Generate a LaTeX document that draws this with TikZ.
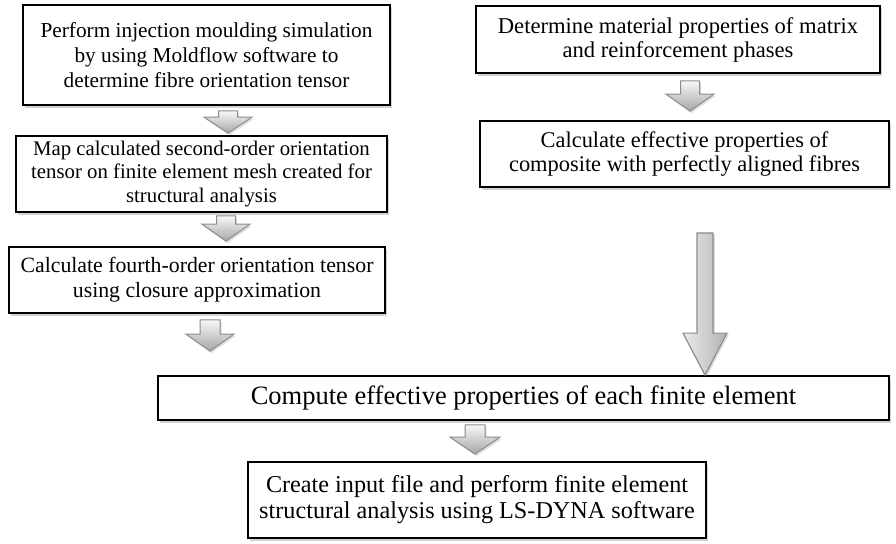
\documentclass[tikz,border=0pt]{standalone}
\usepackage{fontspec}
\setmainfont{Liberation Serif}
\usetikzlibrary{shadows,calc}
\tikzset{
  stepbox/.style={draw=black, line width=1.8pt, fill=white, align=center,
    inner sep=0pt,
    drop shadow={opacity=0.35, shadow xshift=2pt, shadow yshift=-2.5pt}},
  blockarrow/.style={draw=black!45, line width=1pt, top color=black!3, bottom color=black!35,
    drop shadow={opacity=0.25, shadow xshift=1.5pt, shadow yshift=-2pt}},
  bigarrow/.style={draw=black!45, line width=1.2pt, left color=black!8, right color=black!30,
    drop shadow={opacity=0.25, shadow xshift=2pt, shadow yshift=-1.5pt}}
}
\newcommand{\blkarrow}[6][blockarrow]{%
  \path[#1] ($(#2)+(-#4,0)$) -- ($(#3)+(-#4,-#6)$) -- ($(#3)+(-#5,-#6)$) -- (#3)
    -- ($(#3)+(#5,-#6)$) -- ($(#3)+(#4,-#6)$) -- ($(#2)+(#4,0)$) -- cycle;}
\begin{document}
\begin{tikzpicture}[x=1pt,y=-1pt]
\useasboundingbox (0,0) rectangle (896,543);

\node[stepbox, minimum width=367pt, minimum height=100pt, font=\fontsize{21.3}{25}\selectfont] (b1) at (206.5,55)
  {Perform injection moulding simulation\\by using Moldflow software to\\determine fibre orientation tensor};
\node[stepbox, minimum width=404pt, minimum height=67pt, font=\fontsize{22.6}{24}\selectfont] (b2) at (678,39.5)
  {Determine material properties of matrix\\and reinforcement phases};
\node[stepbox, minimum width=371pt, minimum height=76pt, font=\fontsize{20.8}{23.5}\selectfont] (b3) at (201.5,174)
  {Map calculated second-order orientation\\tensor on finite element mesh created for\\structural analysis};
\node[stepbox, minimum width=409pt, minimum height=66pt, font=\fontsize{22.4}{24}\selectfont] (b4) at (684.5,154)
  {Calculate effective properties of\\composite with perfectly aligned fibres};
\node[stepbox, minimum width=376pt, minimum height=66pt, font=\fontsize{21.8}{25}\selectfont] (b5) at (197,280)
  {Calculate fourth-order orientation tensor\\using closure approximation};
\node[stepbox, minimum width=731pt, minimum height=44pt, font=\fontsize{26.5}{28}\selectfont] (b6) at (523.5,398)
  {Compute effective properties of each finite element};
\node[stepbox, minimum width=458pt, minimum height=76pt, font=\fontsize{24.2}{26}\selectfont] (b7) at (477,500)
  {Create input file and perform finite element\\structural analysis using LS-DYNA software};

% arrow end points
\coordinate (a1s) at ($(b1.south)+(21.5,5)$);
\coordinate (a1e) at ($(b3.north)+(26.5,-2)$);
\coordinate (a2s) at ($(b2.south)+(12,7)$);
\coordinate (a2e) at ($(b4.north)+(5.5,-9)$);
\coordinate (a3s) at ($(b3.south)+(24.5,3)$);
\coordinate (a3e) at ($(b5.north)+(29,-5)$);
\coordinate (a4s) at ($(b5.south)+(13,6)$);
\coordinate (a4e) at ($(b6.north)+(-313.5,-24)$);
\coordinate (a5s) at ($(b6.south)+(-48.5,4)$);
\coordinate (a5e) at ($(b7.north)+(-2,-7)$);
\coordinate (bgs) at ($(b4.south)+(20.5,45)$);
\coordinate (bge) at ($(b6.north)+(181.5,0)$);

\blkarrow{a1s}{a1e}{9.5}{24}{16}
\blkarrow{a2s}{a2e}{9.5}{24}{17}
\blkarrow{a3s}{a3e}{9.5}{24}{17}
\blkarrow{a4s}{a4e}{10}{24}{17}
\blkarrow{a5s}{a5e}{10}{25}{17}
\blkarrow[bigarrow]{bgs}{bge}{8}{22}{42}
\end{tikzpicture}
\end{document}
